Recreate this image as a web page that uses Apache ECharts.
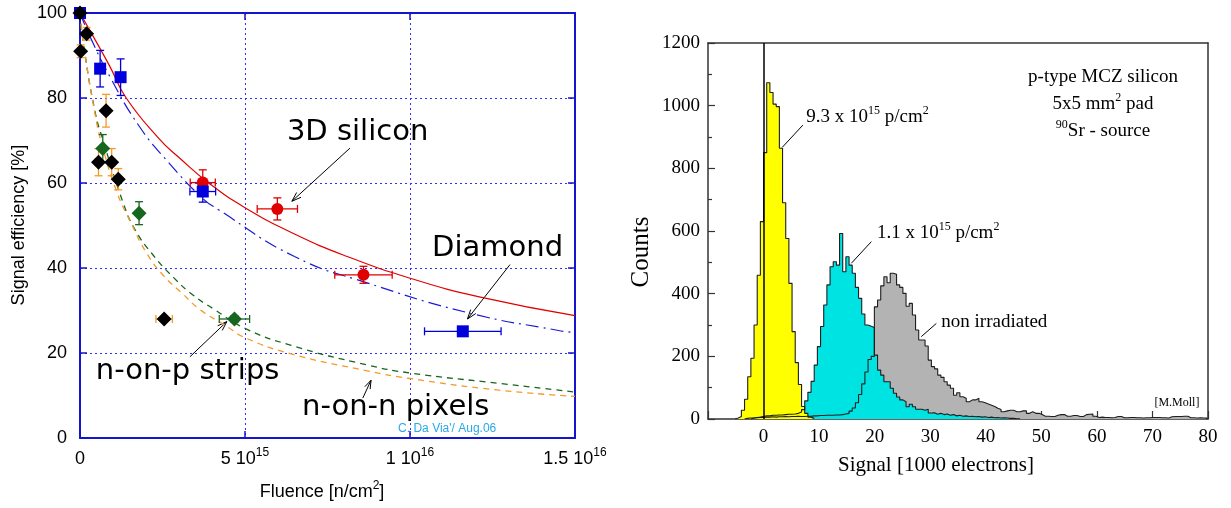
<!DOCTYPE html>
<html>
<head>
<meta charset="utf-8">
<script src="https://cdn.jsdelivr.net/npm/echarts@6/dist/echarts.min.js"></script>
<style>
html, body { margin: 0; padding: 0; background: #fff; }
#chart { width: 1231px; height: 508px; }
</style>
</head>
<body>
<div id="chart"></div>
<script>
// ================= Left panel: signal efficiency vs fluence =================
// Fluence values are in units of 1e15 n/cm^2.
const fluenceTickValues = [0, 5, 10, 15];
const fluenceTickLabels = ['0', '5 10{sup|15}', '1 10{sup|16}', '1.5 10{sup|16}'];

// 3D silicon (red circles)
const siliconX = [3.72, 5.98, 8.59];
const siliconY = [60.1, 53.9, 38.4];
const siliconXErr = [0.38, 0.61, 0.87];
const siliconYErr = [3.0, 2.6, 2.0];

// Diamond (blue squares)
const diamondX = [0, 0.61, 1.23, 3.72, 11.6];
const diamondY = [100, 86.9, 84.9, 58.0, 25.1];
const diamondXErr = [0, 0, 0, 0.39, 1.16];
const diamondYErr = [0, 4.3, 4.3, 2.5, 0.8];

// n-on-p strips (green diamonds)
const stripsX = [0.69, 1.79, 4.68];
const stripsY = [68.1, 52.9, 28.0];
const stripsXErr = [0, 0, 0.46];
const stripsYErr = [3.3, 2.7, 0.8];

// n-on-n pixels (black diamonds, orange error bars)
const pixelsX = [0, 0.02, 0.2, 0.79, 0.56, 0.96, 1.16, 2.55];
const pixelsY = [100, 91.0, 95.1, 77.0, 64.9, 64.9, 60.9, 28.0];
const pixelsXErr = [0, 0, 0, 0, 0.1, 0.1, 0, 0.25];
const pixelsYErr = [0, 1.5, 1.5, 3.85, 3.2, 3.2, 2.5, 0.5];

// Fitted trend curves
const siliconFitX = [0, 0.4, 0.9, 1.4, 2.4, 3.0, 3.9, 5.0, 6.5, 8.1, 10, 12.1, 15];
const siliconFitY = [100, 94.5, 87.5, 80, 70.4, 66, 60, 54.2, 48, 42.7, 37.6, 33.2, 28.8];
const diamondFitX = [0, 0.3, 0.9, 1.8, 2.7, 3.7, 4.2, 6.5, 8.7, 11.8, 14.5, 15];
const diamondFitY = [100, 94.5, 85.1, 73.3, 64.7, 56.5, 53.7, 42.7, 36.5, 29.4, 25.3, 24.8];
const stripsFitX = [0, 0.1, 0.45, 0.7, 1.31, 1.67, 2.22, 2.83, 3.43, 4.04, 5, 6.4, 8.7, 10, 12.65, 15];
const stripsFitY = [100, 93, 77, 70, 55.3, 49, 43, 37.8, 33.6, 30.4, 25.8, 21.8, 17.2, 15.3, 12.9, 10.8];
const pixelsFitX = [0, 0.1, 0.45, 0.65, 1.11, 1.56, 2.02, 2.52, 3.13, 3.64, 4.44, 5, 6.4, 8.7, 10, 12.65, 15];
const pixelsFitY = [100, 93, 76.5, 69.5, 58, 50.4, 43.5, 38.3, 33.8, 30.2, 26.3, 23.6, 19.8, 15.8, 14, 11.3, 9.8];

// ================= Right panel: 90Sr signal spectra =================
const BIN_WIDTH = 0.57; // 1000 electrons per channel

const yellowFirstBin = -9;   // 9.3e15 p/cm2
const yellowCounts = [3, 8, 28, 63, 135, 194, 300, 459, 630, 850, 1073, 1042, 1005, 997, 864,
  690, 576, 433, 279, 180, 110, 40, 18, 6, 2];

const cyanFirstBin = -4;     // 1.1e15 p/cm2
const cyanCounts = [3, 5, 6, 8, 10, 10, 12, 12, 13, 13, 14, 15, 15, 16, 18, 22,
  30, 58, 85, 120, 172, 231, 295, 364, 428, 486, 502, 491, 592, 470, 518, 491, 465, 420, 385,
  335, 300, 296, 292, 204, 156, 140, 119, 119, 98, 82, 70, 61, 55, 39, 47, 39, 31, 31, 28, 31, 19,
  20, 15, 18, 14, 16, 12, 14, 10, 12, 9, 10, 8, 9, 7, 8, 6, 7, 5, 6, 4, 5, 3, 4, 3, 2, 2, 1, 1];

const grayFirstBin = -6;     // non irradiated
const grayCounts = [2, 3, 3, 4, 5, 5,
  6, 6, 7, 6, 7, 7, 8, 7, 8, 8, 9, 8,
  8, 9, 9, 10, 10, 11, 11, 12, 12,
  12, 13, 13, 14, 16,
  18, 25, 35, 52, 78, 112, 150, 190, 200,
  358, 380, 425, 454, 435, 465, 462, 428, 420, 401, 360, 369, 332, 284, 252, 252, 233, 188,
  167, 160, 140, 133, 119, 108, 98, 76, 84, 71, 66, 55, 61, 61, 66, 55, 52, 48, 44, 40,
  34, 30, 23, 26, 28, 28, 23, 23, 26, 26, 18, 23, 18, 18, 14, 9, 9, 8, 8,
  12, 14, 14, 9, 9, 11, 11, 8, 8, 14, 15, 16, 9,
  5, 6, 5, 5, 4, 5, 8, 8, 4, 4, 5, 5, 4, 4, 3, 4, 4, 5, 5, 5, 4, 4, 3, 7, 8, 8, 8, 9, 9, 4, 4, 3, 4, 3, 3];

const signalTickLabelsHidden = [-10];

// ---------------------------------------------------------------
const BLUE = '#1515d0';
const GRID_BLUE = '#2f2fff';
const RED = '#e00000';
const GREEN = '#17661f';
const ORANGE = '#f39a2a';
const SANS = '"Liberation Sans", Arial, sans-serif';
const SERIF = '"Liberation Serif", "Times New Roman", serif';
const BIG = '"DejaVu Sans", Verdana, sans-serif';

function zip(xs, ys) { return xs.map((x, i) => [x, ys[i]]); }

function histogramPoints(firstBin, counts) {
  const pts = [[firstBin * BIN_WIDTH, 0]];
  counts.forEach((c, i) => pts.push([(firstBin + i) * BIN_WIDTH, c]));
  pts.push([(firstBin + counts.length) * BIN_WIDTH, 0]);
  return pts;
}

function fitSeries(xs, ys, color, type, width) {
  return {
    type: 'line', xAxisIndex: 0, yAxisIndex: 0,
    data: zip(xs, ys), smooth: 0.5,
    showSymbol: false, symbol: 'none', silent: true, z: 2,
    lineStyle: { color: color, width: width, type: type }
  };
}

function errorBarSeries(xs, ys, xe, ye, color) {
  return {
    type: 'custom', xAxisIndex: 0, yAxisIndex: 0, clip: false, silent: true, z: 3,
    data: xs.map((x, i) => [x, ys[i], xe[i], ye[i]]),
    renderItem(params, api) {
      const x = api.value(0), y = api.value(1), dx = api.value(2), dy = api.value(3);
      const c = api.coord([x, y]);
      const cap = 4;
      const st = { stroke: color, lineWidth: 1.3 };
      const kids = [];
      if (dy > 0) {
        const t = api.coord([x, y + dy]), b = api.coord([x, y - dy]);
        kids.push({ type: 'line', shape: { x1: c[0], y1: t[1], x2: c[0], y2: b[1] }, style: st });
        kids.push({ type: 'line', shape: { x1: c[0] - cap, y1: t[1], x2: c[0] + cap, y2: t[1] }, style: st });
        kids.push({ type: 'line', shape: { x1: c[0] - cap, y1: b[1], x2: c[0] + cap, y2: b[1] }, style: st });
      }
      if (dx > 0) {
        const l = api.coord([x - dx, y]), r = api.coord([x + dx, y]);
        kids.push({ type: 'line', shape: { x1: l[0], y1: c[1], x2: r[0], y2: c[1] }, style: st });
        kids.push({ type: 'line', shape: { x1: l[0], y1: c[1] - cap, x2: l[0], y2: c[1] + cap }, style: st });
        kids.push({ type: 'line', shape: { x1: r[0], y1: c[1] - cap, x2: r[0], y2: c[1] + cap }, style: st });
      }
      return { type: 'group', children: kids };
    }
  };
}

function markerSeries(xs, ys, symbol, size, color) {
  return {
    type: 'scatter', xAxisIndex: 0, yAxisIndex: 0, clip: false, silent: true, z: 4,
    data: zip(xs, ys), symbol: symbol, symbolSize: size,
    itemStyle: { color: color, opacity: 1 }
  };
}

function histArea(firstBin, counts, color) {
  return {
    type: 'line', xAxisIndex: 2, yAxisIndex: 2, step: 'end', silent: true,
    data: histogramPoints(firstBin, counts), showSymbol: false, symbol: 'none',
    lineStyle: { width: 0, opacity: 0 }, areaStyle: { color: color, opacity: 1 }
  };
}
function histLine(firstBin, counts) {
  return {
    type: 'line', xAxisIndex: 2, yAxisIndex: 2, step: 'end', silent: true,
    data: histogramPoints(firstBin, counts), showSymbol: false, symbol: 'none',
    lineStyle: { color: '#1e1e1e', width: 1.1 }
  };
}

const supRich = (size, family) => ({ sup: { fontSize: size, lineHeight: size, verticalAlign: 'top', fontFamily: family, color: '#000' } });

const frameAxis = (color, width) => ({ show: true, onZero: false, lineStyle: { color: color, width: width } });

const chart = echarts.init(document.getElementById('chart'), null, { renderer: 'canvas' });

const option = {
  animation: false,
  backgroundColor: '#fff',
  grid: [
    { left: 80, top: 13, width: 495, height: 425 },
    { left: 708, top: 43, width: 500, height: 376 }
  ],
  xAxis: [
    { // left bottom
      gridIndex: 0, type: 'value', min: 0, max: 15, interval: 5,
      axisLine: frameAxis(BLUE, 2),
      axisTick: { inside: true, length: 7, lineStyle: { color: BLUE, width: 1.5 } },
      axisLabel: {
        margin: 9, fontSize: 18, fontFamily: SANS, color: '#000', lineHeight: 24,
        formatter: v => { const i = fluenceTickValues.indexOf(v); return i < 0 ? '' : fluenceTickLabels[i]; },
        rich: supRich(12, SANS)
      },
      splitLine: { show: true, lineStyle: { color: GRID_BLUE, width: 1, type: [2, 3] } }
    },
    { // left top
      gridIndex: 0, type: 'value', position: 'top', min: 0, max: 15, interval: 5,
      axisLine: frameAxis(BLUE, 2),
      axisTick: { inside: true, length: 7, lineStyle: { color: BLUE, width: 1.5 } },
      axisLabel: { show: false }, splitLine: { show: false }
    },
    { // right bottom
      gridIndex: 1, type: 'value', min: -10, max: 80, interval: 10,
      axisLine: frameAxis('#333', 1.5),
      axisTick: { inside: true, length: 8, lineStyle: { color: '#333', width: 1.2 } },
      axisLabel: {
        margin: 9, fontSize: 19, fontFamily: SERIF, color: '#000',
        formatter: v => signalTickLabelsHidden.includes(v) ? '' : String(v)
      },
      splitLine: { show: false }
    },
    { // right top
      gridIndex: 1, type: 'value', position: 'top', min: -10, max: 80,
      axisLine: frameAxis('#333', 1.5),
      axisTick: { show: false }, axisLabel: { show: false }, splitLine: { show: false }
    }
  ],
  yAxis: [
    { // left
      gridIndex: 0, type: 'value', min: 0, max: 100, interval: 20,
      axisLine: frameAxis(BLUE, 2),
      axisTick: { inside: true, length: 7, lineStyle: { color: BLUE, width: 1.5 } },
      axisLabel: { margin: 13, fontSize: 18, fontFamily: SANS, color: '#000' },
      splitLine: { show: true, lineStyle: { color: GRID_BLUE, width: 1, type: [2, 3] } }
    },
    { // left, right side
      gridIndex: 0, type: 'value', position: 'right', min: 0, max: 100, interval: 20,
      axisLine: frameAxis(BLUE, 2),
      axisTick: { inside: true, length: 7, lineStyle: { color: BLUE, width: 1.5 } },
      axisLabel: { show: false }, splitLine: { show: false }
    },
    { // right panel counts
      gridIndex: 1, type: 'value', min: 0, max: 1200, interval: 200,
      axisLine: frameAxis('#333', 1.5),
      axisTick: { inside: true, length: 7, lineStyle: { color: '#333', width: 1.2 } },
      minorTick: { show: true, splitNumber: 2, length: 4, lineStyle: { color: '#333', width: 1.2 } },
      axisLabel: { margin: 8, fontSize: 19, fontFamily: SERIF, color: '#000', formatter: v => String(v) },
      splitLine: { show: false }
    },
    {
      gridIndex: 1, type: 'value', position: 'right', min: 0, max: 1200,
      axisLine: frameAxis('#333', 1.5),
      axisTick: { show: false }, axisLabel: { show: false }, splitLine: { show: false }
    }
  ],
  series: [
    // fitted curves
    fitSeries(siliconFitX, siliconFitY, RED, 'solid', 1.2),
    fitSeries(diamondFitX, diamondFitY, '#1a1ad6', [13, 5, 2, 5], 1.2),
    fitSeries(stripsFitX, stripsFitY, GREEN, [6, 5], 1.3),
    fitSeries(pixelsFitX, pixelsFitY, ORANGE, [6, 5], 1.3),
    // error bars
    errorBarSeries(siliconX, siliconY, siliconXErr, siliconYErr, RED),
    errorBarSeries(diamondX, diamondY, diamondXErr, diamondYErr, '#0000dd'),
    errorBarSeries(stripsX, stripsY, stripsXErr, stripsYErr, GREEN),
    errorBarSeries(pixelsX, pixelsY, pixelsXErr, pixelsYErr, ORANGE),
    // markers
    markerSeries(siliconX, siliconY, 'circle', 12, RED),
    markerSeries(diamondX, diamondY, 'rect', 12, '#0000dd'),
    markerSeries(stripsX, stripsY, 'diamond', 15, GREEN),
    markerSeries(pixelsX, pixelsY, 'diamond', 15, '#000'),
    // spectra: fills first, outlines on top
    histArea(grayFirstBin, grayCounts, '#b3b3b3'),
    histArea(cyanFirstBin, cyanCounts, '#00e3e3'),
    histArea(yellowFirstBin, yellowCounts, '#ffff00'),
    histLine(grayFirstBin, grayCounts),
    histLine(cyanFirstBin, cyanCounts),
    Object.assign(histLine(yellowFirstBin, yellowCounts), {
      markLine: {
        silent: true, symbol: 'none', label: { show: false },
        lineStyle: { color: '#000', width: 1.5, type: 'solid' },
        data: [{ xAxis: 0 }]
      }
    })
  ]
};
chart.setOption(option);

// ---------------- annotations ----------------
const L = { xAxisIndex: 0, yAxisIndex: 0 };
const R = { xAxisIndex: 2, yAxisIndex: 2 };
const px = (f, p) => chart.convertToPixel(f, p);

function text(pos, str, font, opts) {
  return {
    type: 'text', x: pos[0], y: pos[1], silent: true,
    style: Object.assign({ text: str, font: font, fill: '#000', align: 'left', verticalAlign: 'middle' }, opts || {})
  };
}
function arrow(from, to, head) {
  const ang = Math.atan2(to[1] - from[1], to[0] - from[0]);
  const a1 = ang + Math.PI - 0.33, a2 = ang + Math.PI + 0.33;
  const st = { stroke: '#000', lineWidth: 1, fill: null };
  return [
    { type: 'line', silent: true, shape: { x1: from[0], y1: from[1], x2: to[0], y2: to[1] }, style: st },
    { type: 'polyline', silent: true, shape: { points: [
      [to[0] + head * Math.cos(a1), to[1] + head * Math.sin(a1)], to,
      [to[0] + head * Math.cos(a2), to[1] + head * Math.sin(a2)]] }, style: st }
  ];
}
function leader(from, to) {
  return { type: 'line', silent: true, shape: { x1: from[0], y1: from[1], x2: to[0], y2: to[1] },
    style: { stroke: '#000', lineWidth: 1 } };
}

const bigFont = '29px ' + BIG;
const serif19 = '19px ' + SERIF;
const verticalTitle = (pos, str, font) => Object.assign(text(pos, str, font, { align: 'center' }), { rotation: Math.PI / 2 });

const graphics = [
  // left panel labels
  text(px(L, [6.27, 71.8]), '3D silicon', bigFont),
  text(px(L, [10.67, 44.7]), 'Diamond', bigFont),
  text(px(L, [0.48, 15.7]), 'n-on-p strips', bigFont),
  text(px(L, [6.73, 7.1]), 'n-on-n pixels', bigFont),
  text(px(L, [9.64, 2.2]), "C. Da Via'/ Aug.06", '12px ' + SANS, { fill: '#2aa8e6' }),
  ...arrow(px(L, [8.18, 68.2]), px(L, [6.42, 55.7]), 10),
  ...arrow(px(L, [13.03, 40.8]), px(L, [11.74, 28.0]), 10),
  ...arrow(px(L, [3.33, 19.1]), px(L, [4.45, 27.4]), 10),
  ...arrow(px(L, [8.57, 9.4]), px(L, [8.82, 13.6]), 9),
  // left axis titles
  verticalTitle([19, 225], 'Signal efficiency [%]', '18px ' + SANS),
  text([322, 492], 'Fluence [n/cm{sup|2}]', '18px ' + SANS,
    { align: 'center', lineHeight: 24, rich: supRich(12, SANS) }),
  // right panel labels
  text(px(R, [7.7, 965]), '9.3 x 10{sup|15} p/cm{sup|2}', serif19, { lineHeight: 24, rich: supRich(12, SERIF) }),
  leader(px(R, [3.37, 867]), px(R, [7.08, 938])),
  text(px(R, [20.4, 593]), '1.1 x 10{sup|15} p/cm{sup|2}', serif19, { lineHeight: 24, rich: supRich(12, SERIF) }),
  leader(px(R, [15.8, 497]), px(R, [19.4, 566])),
  text(px(R, [32.0, 310]), 'non irradiated', serif19),
  leader(px(R, [28.4, 263]), px(R, [31.1, 305])),
  text(px(R, [61.1, 1092]), 'p-type MCZ silicon', serif19, { align: 'center' }),
  text(px(R, [61.1, 1006]), '5x5 mm{sup|2} pad', serif19, { align: 'center', lineHeight: 24, rich: supRich(12, SERIF) }),
  text(px(R, [61.1, 920]), '{sup|90}Sr - source', serif19, { align: 'center', lineHeight: 24, rich: supRich(12, SERIF) }),
  text(px(R, [74.4, 51]), '[M.Moll]', '12px ' + SERIF, { align: 'center' }),
  // right axis titles
  text([936, 465], 'Signal [1000 electrons]', '21px ' + SERIF, { align: 'center' }),
  verticalTitle([641, 252], 'Counts', '25px ' + SERIF)
];
chart.setOption({ graphic: graphics });
</script>
</body>
</html>
